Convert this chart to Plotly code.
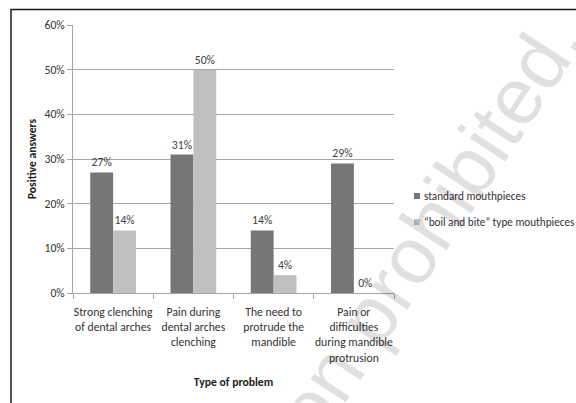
import plotly.graph_objects as go

# Survey results: share of positive answers per problem type
categories = [
    "Strong clenching<br>of dental arches",
    "Pain during<br>dental arches<br>clenching",
    "The need to<br>protrude the<br>mandible",
    "Pain or<br>difficulties<br>during mandible<br>protrusion",
]
standard = [27, 31, 14, 29]
boil_and_bite = [14, 50, 4, 0]
series_names = ["standard mouthpieces", "\u201cboil and bite\u201d type mouthpieces"]
y_ticks = [0, 10, 20, 30, 40, 50, 60]

W, H = 576, 403
PL, PR, PT, PB = 73, 394, 25, 293  # plot area in pixels


def px(x):
    return (x - PL) / (PR - PL)


def py(y):
    return (PB - y) / (PB - PT)


FONT = "Carlito, Lato, sans-serif"
FS = 11.7
DARK = "#767676"
LIGHT = "#c0c0c0"
TEXT = "#333333"

fig = go.Figure()
for vals, color, name in [(standard, DARK, series_names[0]),
                          (boil_and_bite, LIGHT, series_names[1])]:
    fig.add_trace(go.Bar(
        x=categories, y=vals, name=name, marker_color=color, marker_line_width=0,
        text=[f"{v}%" for v in vals], textposition="outside",
        textfont=dict(family=FONT, size=FS, color="#404040"),
        cliponaxis=False, showlegend=False,
    ))

fig.update_layout(
    width=W, height=H,
    margin=dict(l=PL, r=W - PR, t=PT, b=H - PB, autoexpand=False),
    paper_bgcolor="white", plot_bgcolor="white",
    barmode="group", bargap=0.43, bargroupgap=0,
    font=dict(family=FONT, size=FS, color=TEXT),
    showlegend=False,
    xaxis=dict(
        showgrid=False, showline=True, linecolor="#a6a6a6", linewidth=1,
        ticks="outside", ticklen=5, tickcolor="#a6a6a6", tickson="boundaries",
        tickangle=0, automargin=False, ticklabelstandoff=8,
        tickfont=dict(family=FONT, size=FS, color=TEXT),
        title=dict(text="<b>Type of problem</b>", standoff=14,
                   font=dict(family=FONT, size=FS, color="#222222")),
        fixedrange=True,
    ),
    yaxis=dict(
        range=[0, 60], tickvals=y_ticks, ticktext=[f"{v}%" for v in y_ticks],
        showgrid=True, gridcolor="#a6a6a6", gridwidth=1,
        showline=True, linecolor="#a6a6a6", linewidth=1,
        ticks="outside", ticklen=5, tickcolor="#a6a6a6",
        tickfont=dict(family=FONT, size=FS, color=TEXT),
        zeroline=False, automargin=False,
        title=dict(text="<b>Positive answers</b>", standoff=5,
                   font=dict(family=FONT, size=FS, color="#222222")),
        fixedrange=True,
    ),
)

# legend: small square swatch followed by the series name
for i, (name, color) in enumerate(zip(series_names, [DARK, LIGHT])):
    yc = 196 + 26 * i
    fig.add_shape(
        type="rect", xref="paper", yref="paper",
        x0=px(414), x1=px(420), y0=py(yc + 3), y1=py(yc - 3),
        line=dict(width=0), fillcolor=color,
    )
    fig.add_annotation(
        text=name, xref="paper", yref="paper", x=px(422), y=py(yc),
        xanchor="left", yanchor="middle", showarrow=False,
        font=dict(family=FONT, size=11.2, color=TEXT),
    )

# outer chart border (runs off the right and bottom edges)
fig.add_shape(
    type="rect", xref="paper", yref="paper",
    x0=px(11), x1=px(W + 20), y0=py(H + 20), y1=py(9.5),
    line=dict(color="#1a1a1a", width=1.5), fillcolor="rgba(0,0,0,0)", layer="above",
)

# diagonal watermark
fig.add_annotation(
    text="on prohibited.", xref="paper", yref="paper",
    x=px(429), y=py(226), xanchor="center", yanchor="middle",
    textangle=-56.5, showarrow=False,
    font=dict(family="Liberation Sans, Arial, sans-serif", size=80,
              color="rgba(0,0,0,0.12)"),
)

fig.write_html("out.html")
